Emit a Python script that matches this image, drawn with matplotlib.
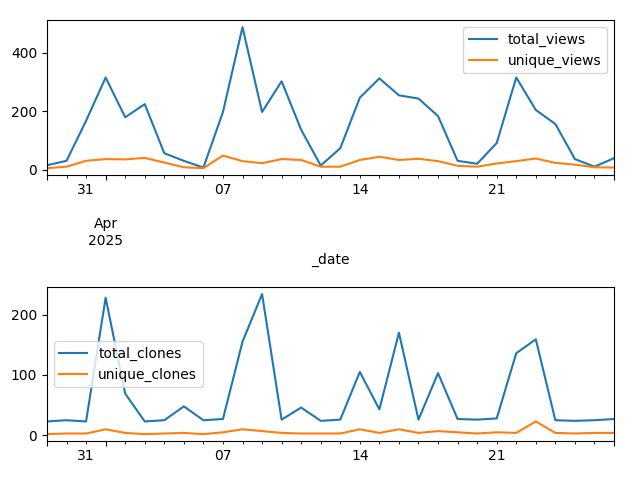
import numpy as np
import pandas as pd
import matplotlib
matplotlib.use("Agg")
import matplotlib.pyplot as plt

# daily traffic, 2025-03-29 .. 2025-04-27
dates = pd.date_range("2025-03-29", periods=30, freq="D")

total_views = [16, 31, 168, 316, 180, 225, 57, 31, 8, 198, 488, 198, 303, 137, 15,
               74, 247, 313, 255, 244, 184, 31, 21, 92, 316, 205, 157, 37, 11, 40]
unique_views = [6, 11, 31, 37, 36, 41, 25, 9, 6, 49, 30, 23, 37, 34, 11,
                11, 34, 45, 34, 38, 30, 14, 11, 22, 30, 39, 24, 18, 9, 8]

total_clones = [23, 25, 23, 228, 69, 23, 25, 48, 25, 27, 155, 234, 26, 46, 24,
                26, 105, 43, 170, 26, 103, 27, 26, 28, 136, 159, 25, 24, 25, 27]
unique_clones = [2, 3, 3, 10, 4, 2, 3, 4, 2, 5, 10, 7, 4, 3, 3,
                 3, 10, 4, 10, 4, 7, 5, 3, 5, 4, 23, 4, 3, 4, 4]

views = pd.DataFrame({"total_views": total_views, "unique_views": unique_views},
                     index=pd.Index(dates, name="_date"))
clones = pd.DataFrame({"total_clones": total_clones, "unique_clones": unique_clones},
                      index=pd.Index(dates, name="_date"))

fig = plt.figure(figsize=(6.4, 4.8), dpi=100)
ax1 = fig.add_axes([0.0734, 0.635, 0.886, 0.323])
ax2 = fig.add_axes([0.0734, 0.081, 0.886, 0.321])

views.plot(ax=ax1)
ax1.legend(loc="upper right")

clones.plot(ax=ax2)
ax2.legend(loc="center left")

fig.savefig("out.png", dpi=100)
